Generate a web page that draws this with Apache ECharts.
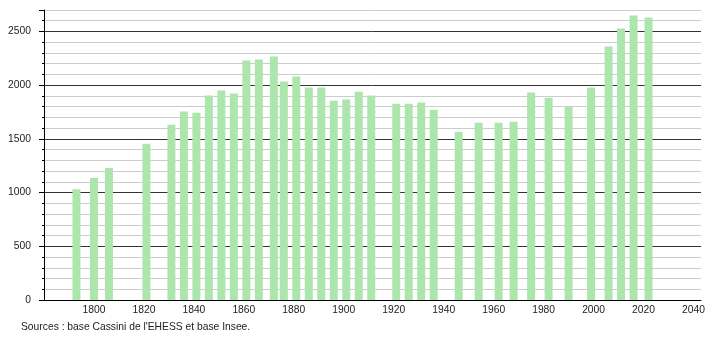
<!DOCTYPE html>
<html><head><meta charset="utf-8">
<script src="https://cdn.jsdelivr.net/npm/echarts@6/dist/echarts.min.js"></script>
<style>html,body{margin:0;padding:0;background:#fff}#c{width:710px;height:340px}</style>
</head><body><div id="c"></div>
<script>
const years = [1793,1800,1806,1821,1831,1836,1841,1846,1851,1856,1861,1866,1872,1876,1881,1886,1891,1896,1901,1906,1911,1921,1926,1931,1936,1946,1954,1962,1968,1975,1982,1990,1999,2006,2011,2016,2022];
const population = [1030,1135,1230,1455,1632,1754,1744,1903,1950,1922,2229,2239,2267,2034,2080,1978,1978,1856,1866,1940,1903,1828,1828,1838,1772,1567,1651,1651,1660,1931,1884,1800,1978,2360,2528,2649,2631];
const sourceText = "Sources : base Cassini de l'EHESS et base Insee.";

const chart = echarts.init(document.getElementById('c'), null, {renderer:'canvas'});
const font = '"Liberation Sans", Arial, sans-serif';
chart.setOption({
  animation:false,
  grid:{left:44, right:9, top:10, bottom:40},
  xAxis:{type:'value', min:1780, max:2043, interval:20,
    axisLine:{show:true, lineStyle:{color:'#000', width:1}},
    axisTick:{show:false},
    splitLine:{show:false},
    axisLabel:{margin:5, fontSize:10.3, color:'#222', fontFamily:font,
      formatter:v=> (v%20===0 && v>1780) ? String(v) : ''}
  },
  yAxis:{type:'value', min:0, max:2700, interval:500,
    axisLine:{show:true, lineStyle:{color:'#000', width:1}},
    axisTick:{show:true, length:5, lineStyle:{color:'#000'}},
    minorTick:{show:true, splitNumber:5, length:2, lineStyle:{color:'#000'}},
    splitLine:{show:true, lineStyle:{color:['#333','#333','#333','#333','#333','#333','#cccccc'], width:1}},
    minorSplitLine:{show:true, lineStyle:{color:'#cccccc', width:1}},
    axisLabel:{margin:13, fontSize:10.3, color:'#222', fontFamily:font,
      formatter:v=> (v%500===0) ? String(v) : ''}
  },
  series:[{type:'bar', barWidth:8,
    itemStyle:{color:'#ade6ad'},
    data: years.map((y,i)=>[y, population[i]])}],
  graphic:[{type:'text', left:21, top:322, style:{text:sourceText, fill:'#222', font:'10.3px '+font}}]
});
</script></body></html>
